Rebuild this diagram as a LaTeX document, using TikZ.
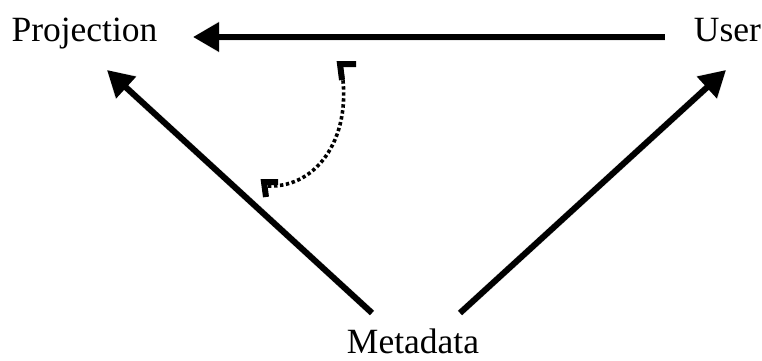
\documentclass[tikz,border=0pt]{standalone}
\usepackage{fontspec}
\setmainfont{Liberation Serif}
\usetikzlibrary{arrows.meta}
\begin{document}
\begin{tikzpicture}[x=1pt,y=-1pt,
  lbl/.style={inner sep=0pt,anchor=base,font=\fontsize{35.5}{40}\selectfont},
  bigarrow/.style={line width=6pt,-{Triangle[length=26pt,width=28pt]}},
  shadowline/.style={line width=7pt,draw=black!25,opacity=0.35,-{Triangle[length=26pt,width=30pt]}},
  dotline/.style={line width=3.6pt,dash pattern=on 3.4pt off 2.6pt},
  tipline/.style={line width=6pt,line join=miter,line cap=butt}]
\useasboundingbox (0,0) rectangle (762,360);
\node[lbl] (proj) at (84.5,41.7) {Projection};
\node[lbl] (user) at (727.5,41.7) {User};
\node[lbl,text depth=0pt] (meta) at (413,353) {Metadata};
\coordinate (t1) at (665,37);
\coordinate (t2) at (193,37);
\coordinate (l1) at (372,313);
\coordinate (l2) at (107,70);
\coordinate (r1) at (460,313);
\coordinate (r2) at (726,70);
% shadows
\begin{scope}[shift={(1.5,2.5)}]
\draw[shadowline] (t1) -- (t2);
\draw[shadowline] (l1) -- (l2);
\draw[shadowline] (r1) -- (r2);
\end{scope}
\draw[bigarrow] (t1) -- (t2);
\draw[bigarrow] (l1) -- (l2);
\draw[bigarrow] (r1) -- (r2);
% dotted arc
\coordinate (d1) at (268,186);
\coordinate (d2) at (341,67);
\draw[dotline] (d1) .. controls (318,188) and (354,135) .. (d2);
\draw[tipline] (278,182) -- (264,182) -- (266,197);
\draw[tipline] (356,64) -- (340,64) -- (342,80);
\end{tikzpicture}
\end{document}
